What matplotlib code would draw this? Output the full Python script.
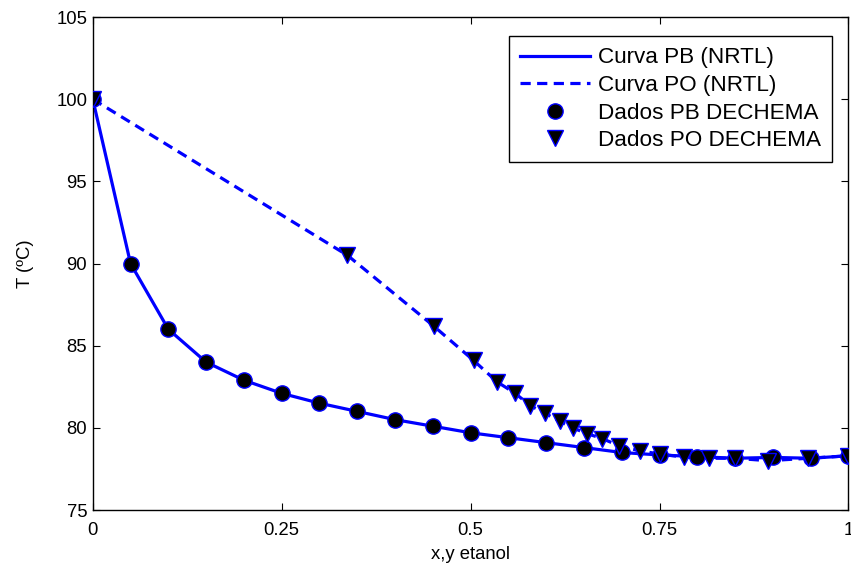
import matplotlib
matplotlib.use("Agg")
import matplotlib.pyplot as plt

# Bubble-point (PB) data: liquid mole fraction x and temperature
x_pb = [0.0, 0.05, 0.10, 0.15, 0.20, 0.25, 0.30, 0.35, 0.40, 0.45, 0.50,
        0.55, 0.60, 0.65, 0.70, 0.75, 0.80, 0.85, 0.90, 0.95, 1.00]
T_pb = [100.0, 90.0, 86.0, 84.0, 82.9, 82.1, 81.5, 81.0, 80.5, 80.1, 79.7,
        79.4, 79.1, 78.8, 78.5, 78.35, 78.25, 78.15, 78.2, 78.15, 78.3]

# Dew-point (PO) data: vapour mole fraction y and temperature
y_po = [0.0, 0.337, 0.451, 0.504, 0.535, 0.559, 0.579, 0.598, 0.618, 0.635,
        0.654, 0.674, 0.697, 0.724, 0.751, 0.782, 0.815, 0.85, 0.894, 0.947, 1.0]
T_po = [100.0, 90.5, 86.2, 84.1, 82.8, 82.1, 81.35, 80.9, 80.4, 80.0,
        79.65, 79.35, 78.9, 78.6, 78.4, 78.22, 78.15, 78.15, 78.0, 78.15, 78.3]

x_ticks = [0, 0.25, 0.5, 0.75, 1]
x_ticklabels = ["0", "0.25", "0.5", "0.75", "1"]
y_ticks = [75, 80, 85, 90, 95, 100, 105]

plt.rcParams['font.family'] = ['Liberation Sans', 'DejaVu Sans']

fig = plt.figure(figsize=(8.51, 5.67), dpi=100)
ax = fig.add_axes([0.109, 0.1005, 0.888, 0.8695])

blue = "#0000ff"
ax.plot(x_pb, T_pb, '-', color=blue, lw=2.3, label="Curva PB (NRTL)", zorder=2)
ax.plot(y_po, T_po, color=blue, lw=2.3, linestyle=(0, (3.2, 2.0)),
        label="Curva PO (NRTL)", zorder=2)
ax.plot(x_pb, T_pb, 'o', ls='none', mfc='black', mec=blue, mew=1.0,
        ms=11, label="Dados PB DECHEMA", zorder=3)
ax.plot(y_po, T_po, 'v', ls='none', mfc='black', mec=blue, mew=1.0,
        ms=11.5, label="Dados PO DECHEMA", zorder=3)

ax.set_xlim(0, 1)
ax.set_ylim(75, 105)
ax.set_xticks(x_ticks)
ax.set_xticklabels(x_ticklabels)
ax.set_yticks(y_ticks)
ax.tick_params(direction='in', length=5, width=0.8, top=True, right=True,
               labelsize=13.3)
ax.tick_params(axis='x', pad=8.3)
ax.tick_params(axis='y', pad=4)
for s in ax.spines.values():
    s.set_linewidth(1.0)

ax.set_xlabel("x,y etanol", fontsize=13.3, labelpad=5.5)
ax.set_ylabel("T (ºC)", fontsize=13.3, labelpad=16)

leg = ax.legend(loc='upper right', bbox_to_anchor=(0.978, 0.961),
                fontsize=16.2, frameon=True, fancybox=False, framealpha=1,
                edgecolor='black', handlelength=3.1, handletextpad=0.35,
                borderpad=0.5, labelspacing=0.29, borderaxespad=0)
leg.get_frame().set_linewidth(1.0)

fig.savefig("out.png", dpi=100)
